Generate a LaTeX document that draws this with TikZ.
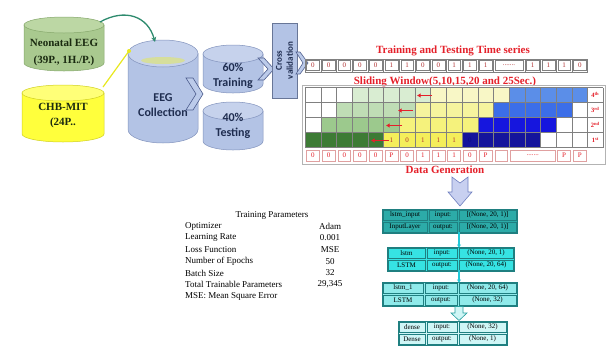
\documentclass[tikz,border=0pt]{standalone}
\usepackage{fontspec}
\setmainfont{Liberation Serif}
\newfontfamily\calfont{Carlito}
\usetikzlibrary{arrows.meta}
\definecolor{neoBody}{HTML}{A9C98F}
\definecolor{neoTop}{HTML}{BCD7A4}
\definecolor{neoLine}{HTML}{86A86C}
\definecolor{neoText}{HTML}{1A2A10}
\definecolor{chbBody}{HTML}{FFFF3C}
\definecolor{chbTop}{HTML}{FFFF78}
\definecolor{chbLine}{HTML}{D0D020}
\definecolor{bluBody}{HTML}{B3C3E5}
\definecolor{bluTop}{HTML}{C6D2EC}
\definecolor{bluLine}{HTML}{8293BD}
\definecolor{bandC}{HTML}{D6DE9C}
\definecolor{calText}{HTML}{1F2D50}
\definecolor{chevF}{HTML}{BCCBEA}
\definecolor{chevD}{HTML}{4F5F8F}
\definecolor{redT}{HTML}{E5202A}
\definecolor{tsRed}{HTML}{B03030}
\definecolor{gridC}{HTML}{808080}
\definecolor{pinkB}{HTML}{E0A0A0}
\definecolor{g4}{HTML}{D9EDD2}
\definecolor{g3}{HTML}{BFDDB5}
\definecolor{g2}{HTML}{9CC98D}
\definecolor{g1}{HTML}{3D7B35}
\definecolor{y4}{HTML}{F8F7C6}
\definecolor{y3}{HTML}{F6F49E}
\definecolor{y2}{HTML}{F5F27C}
\definecolor{y1}{HTML}{F4EE5A}
\definecolor{b4}{HTML}{5B8EE8}
\definecolor{b3}{HTML}{3C6EE8}
\definecolor{b2}{HTML}{1616DE}
\definecolor{b1}{HTML}{14149C}
\definecolor{n1}{HTML}{2CABA8}
\definecolor{n2}{HTML}{36E3E3}
\definecolor{n3}{HTML}{8FEAEA}
\definecolor{n4}{HTML}{CFF6F6}
\definecolor{nLine}{HTML}{1F7F80}
\definecolor{nArr}{HTML}{22C8D8}
\definecolor{arrF}{HTML}{C8D0F0}
\definecolor{arrD}{HTML}{7080C0}
\definecolor{neoArr}{HTML}{2E8B6E}
\definecolor{yelL}{HTML}{E8E820}

\newcommand{\mycyl}[8]{%
 \pgfmathsetmacro\cylrx{#3/2}%
 \filldraw[draw=#8, fill=#6, line width=0.5pt] (#1-\cylrx,#2+#5) -- (#1-\cylrx,#4-#5) arc[start angle=180,end angle=0,x radius=\cylrx,y radius=#5] -- (#1+\cylrx,#2+#5) -- cycle;
 \filldraw[draw=#8, fill=#7, line width=0.5pt] (#1,#2+#5) ellipse[x radius=\cylrx,y radius=#5];
}
\newcommand{\netcell}[6]{%
 \pgfmathsetmacro\ncw{#3-#2-2.4}\pgfmathsetmacro\nch{#5-#4-2.4}%
 \pgfmathsetmacro\ncx{(#2+#3)/2}\pgfmathsetmacro\ncy{(#4+#5)/2}%
 \node[ncell, minimum width=\ncw pt, minimum height=\nch pt] (#1) at (\ncx,\ncy) {#6};}

\begin{document}
\begin{tikzpicture}[x=1pt,y=-1pt,
 redtitle/.style={font=\bfseries\fontsize{11}{13}\selectfont, text=redT, inner sep=0pt},
 cyltxt/.style={font=\bfseries\fontsize{11}{17}\selectfont, align=center, inner sep=0pt},
 caltxt/.style={font=\calfont\bfseries\fontsize{12}{15}\selectfont, align=center, inner sep=0pt, text=calText},
 tscell/.style={draw=gridC, line width=0.4pt, minimum width=12.7pt, minimum height=10pt, inner sep=0pt, font=\fontsize{7}{8}\selectfont, text=tsRed},
 bcell/.style={draw=pinkB, line width=0.5pt, minimum width=12.9pt, minimum height=10.6pt, inner sep=0pt, font=\fontsize{7}{8}\selectfont, text=redT},
 gtxt/.style={inner sep=0pt, font=\fontsize{7}{8}\selectfont, text=tsRed},
 lbl/.style={inner sep=0pt, font=\bfseries\fontsize{6.5}{7}\selectfont, text=redT},
 tp/.style={font=\fontsize{9}{10}\selectfont, inner sep=0pt},
 ncell/.style={draw=nLine, line width=0.4pt, inner sep=0pt, font=\fontsize{7}{8}\selectfont},
 chev/.style={fill=chevF, draw=chevD, line width=0.6pt, line join=miter},
 redarr/.style={draw=redT, line width=1.6pt, -{Latex[length=3.5pt,width=4.5pt]}},
 netarr/.style={draw=nArr, line width=1.4pt, -{Latex[length=3.5pt,width=4.5pt]}},
]
\useasboundingbox (0,0) rectangle (608,354);
\fill[white] (0,0) rectangle (608,354);

% ---------- data sources ----------
\mycyl{64}{17}{80}{71}{8}{neoBody}{neoTop}{neoLine}
\node[cyltxt, text=neoText] (neo) at (64,52) {Neonatal EEG\\(39P., 1H./P.)};
\mycyl{63}{85}{82}{142}{8}{chbBody}{chbTop}{chbLine}
\node[cyltxt, text=neoText, font=\bfseries\fontsize{11}{15}\selectfont] (chb) at (63,115.5) {CHB-MIT\\(24P..};

\mycyl{163}{40}{70}{143}{13.5}{bluBody}{bluTop}{bluLine}
\fill[bandC] (163,60.5) ellipse[x radius=22,y radius=3.5];
\node[caltxt] (coll) at (163,105.5) {EEG\\Collection};

\coordinate (neoR) at (100,22);
\coordinate (collT) at (155,42);
\draw[neoArr, line width=1.3pt, -{Stealth[length=5pt,width=5pt]}] (neoR) .. controls (125,8) and (148,16) .. (collT);
\coordinate (chbR) at (103,87);
\coordinate (collL) at (129,51);
\draw[yelL, line width=1.2pt] (chbR) -- (collL);
\fill[yelL] (collL) circle (2);

% ---------- split ----------
\mycyl{233}{45}{60}{93}{9}{bluBody}{bluTop}{bluLine}
\node[caltxt] (train) at (233,75.5) {60\%\\Training};
\mycyl{233}{102}{60}{150}{9}{bluBody}{bluTop}{bluLine}
\node[caltxt] (test) at (233,125.5) {40\%\\Testing};

\filldraw[chev] (186,78) -- (193,78) -- (203,94) -- (193,110) -- (186,110) -- (196,94) -- cycle;
\filldraw[chev] (258,58) -- (264,58) -- (274,69) -- (264,80) -- (258,80) -- (268,69) -- cycle;

\node[draw=bluLine!80!black, fill=bluBody, line width=0.6pt, minimum width=25pt, minimum height=75pt, inner sep=0pt] (cv) at (284.5,60.5) {};
\node[rotate=90, font=\calfont\bfseries\fontsize{9}{11}\selectfont, text=calText, align=center, inner sep=0pt] (cvt) at (cv.center) {Cross\\validation};
\filldraw[chev] (296,52) -- (300,52) -- (308,63) -- (300,74) -- (296,74) -- (303,63) -- cycle;

% ---------- time series ----------
\node[redtitle] (tts) at (453,51) {Training and Testing Time series};
\draw[gridC, line width=0.5pt] (305,59) rectangle (587.6,72);
\foreach \v [count=\i] in {0,0,0,0,0,1,1,0,0,1,1,1}{
  \node[tscell] (ts\i) at ({305+(\i-0.5)*15.7},65.5) {\v};
  \draw[gridC, line width=0.4pt] ({305+\i*15.7},59) -- ({305+\i*15.7},72);
}
\node[tscell, minimum width=28.4pt] (tsdots) at (509.1,65.5) {.......};
\foreach \v [count=\i from 15] in {1,1,1,0}{
  \node[tscell] (ts\i) at ({305+(\i-0.5)*15.7},65.5) {\v};
  \draw[gridC, line width=0.4pt] ({305+(\i-1)*15.7},59) -- ({305+(\i-1)*15.7},72);
}

% ---------- sliding window grid ----------
\node[redtitle] (sw) at (445,82) {Sliding Window(5,10,15,20 and 25Sec.)};
\draw[gridC!60, line width=0.5pt] (302.5,85.5) rectangle (605,164);
\foreach \k/\yt/\gc/\yc/\bc in {4/87.5/g4/y4/b4, 3/102.5/g3/y3/b3, 2/117.5/g2/y2/b2, 1/132.5/g1/y1/b1}{
  \fill[\gc] ({305+(\k-1)*15.7},\yt) rectangle ++(78.5,15);
  \fill[\yc] ({305+(\k+4)*15.7},\yt) rectangle ++(78.5,15);
  \fill[\bc] ({305+(\k+9)*15.7},\yt) rectangle ++(78.5,15);
}
\foreach \c in {0,...,18}{
  \draw[gridC, line width=0.4pt] ({305+\c*15.7},87.5) -- ({305+\c*15.7},147.5);
}
\foreach \r in {0,...,4}{
  \draw[gridC, line width=0.4pt] (305,{87.5+\r*15}) -- (603,{87.5+\r*15});
}
\draw[gridC, line width=0.4pt] (603,87.5) -- (603,147.5);
\node[lbl] (l4) at (595.3,95) {4\textsuperscript{th}};
\node[lbl] (l3) at (595.3,110) {3\textsuperscript{rd}};
\node[lbl] (l2) at (595.3,125) {2\textsuperscript{nd}};
\node[lbl] (l1) at (595.3,140) {1\textsuperscript{st}};
\foreach \v [count=\i from 6] in {1,0,1,1,1}{
  \node[gtxt] (g\i) at ({305+(\i-0.5)*15.7},140.5) {\v};
}
\node[gtxt, text=b2!60!black] (g11) at ({305+10.5*15.7},140.5) {0};

\coordinate (r4a) at (432,95.5); \coordinate (r4b) at (417,95.5);
\coordinate (r3a) at (413,110.5); \coordinate (r3b) at (398,110.5);
\coordinate (r2a) at (402,125.5); \coordinate (r2b) at (386,125.5);
\coordinate (r1a) at (389,140.5); \coordinate (r1b) at (371,140.5);
\draw[redarr] (r4a) -- (r4b);
\draw[redarr] (r3a) -- (r3b);
\draw[redarr] (r2a) -- (r2b);
\draw[redarr] (r1a) -- (r1b);

\foreach \v [count=\i] in {0,0,0,0,0,P,0,1,1,1,0,P}{
  \node[bcell] (bc\i) at ({305+(\i-0.5)*15.7},155.5) {\v};
}
\node[bcell] (bc13) at ({305+12.5*15.7},155.5) {};
\node[bcell, minimum width=44.5pt] (bcd) at (532.65,155.5) {.......};
\node[bcell] (bc17) at ({305+16.5*15.7},155.5) {P};
\node[bcell] (bc18) at ({305+17.5*15.7},155.5) {P};
\node[redtitle] (dg) at (445,169.5) {Data Generation};

\filldraw[fill=arrF, draw=arrD, line width=0.6pt] (452,177) -- (460,183) -- (468,177) -- (468,192) -- (472,192) -- (460,206) -- (448,192) -- (452,192) -- cycle;

% ---------- training parameters ----------
\node[tp] (tpt) at (272,215) {Training Parameters};
\foreach \a/\b [count=\i] in {Optimizer/Adam, Learning Rate/0.001, Loss Function/MSE, Number of Epochs/50, Batch Size/32, Total Trainable Parameters/{29,345}}{
  \node[tp, anchor=west] (pk\i) at (185,{214.5+\i*11.7}) {\a};
  \node[tp] (pv\i) at (330,{214.5+\i*11.7}) {\b};
}
\node[tp, anchor=west] (pk7) at (185,296.4) {MSE: Mean Square Error};

% ---------- network ----------
\filldraw[fill=n1, draw=nLine, line width=0.5pt] (382,209) rectangle (517,233);
\netcell{a11}{382}{428}{209}{221}{lstm\_input}
\netcell{a12}{428}{458}{209}{221}{input:}
\netcell{a13}{458}{517}{209}{221}{[(None, 20, 1)]}
\netcell{a21}{382}{428}{221}{233}{InputLayer}
\netcell{a22}{428}{458}{221}{233}{output:}
\netcell{a23}{458}{517}{221}{233}{[(None, 20, 1)]}

\filldraw[fill=n2, draw=nLine, line width=0.5pt] (387,247) rectangle (514,271);
\netcell{b11}{387}{426}{247}{259}{lstm}
\netcell{b12}{426}{458}{247}{259}{input:}
\netcell{b13}{458}{514}{247}{259}{(None, 20, 1)}
\netcell{b21}{387}{426}{259}{271}{LSTM}
\netcell{b22}{426}{458}{259}{271}{output:}
\netcell{b23}{458}{514}{259}{271}{(None, 20, 64)}

\filldraw[fill=n3, draw=nLine, line width=0.5pt] (382,282) rectangle (517,306);
\netcell{c11}{382}{424}{282}{294}{lstm\_1}
\netcell{c12}{424}{458}{282}{294}{input:}
\netcell{c13}{458}{517}{282}{294}{(None, 20, 64)}
\netcell{c21}{382}{424}{294}{306}{LSTM}
\netcell{c22}{424}{458}{294}{306}{output:}
\netcell{c23}{458}{517}{294}{306}{(None, 32)}

\filldraw[fill=n4, draw=nLine, line width=0.5pt] (398,321) rectangle (507,345);
\netcell{d11}{398}{426}{321}{333}{dense}
\netcell{d12}{426}{458}{321}{333}{input:}
\netcell{d13}{458}{507}{321}{333}{(None, 32)}
\netcell{d21}{398}{426}{333}{345}{Dense}
\netcell{d22}{426}{458}{333}{345}{output:}
\netcell{d23}{458}{507}{333}{345}{(None, 1)}

\draw[netarr] (a23.south west) -- (a23.south west |- b13.north);
\draw[netarr] (b23.south west) -- (b23.south west |- c13.north);
\filldraw[fill=n4, draw=n2!70!black, line width=0.6pt] (455,306.5) -- (463,306.5) -- (463,313) -- (467,313) -- (459,320.5) -- (451,313) -- (455,313) -- cycle;
\end{tikzpicture}
\end{document}
